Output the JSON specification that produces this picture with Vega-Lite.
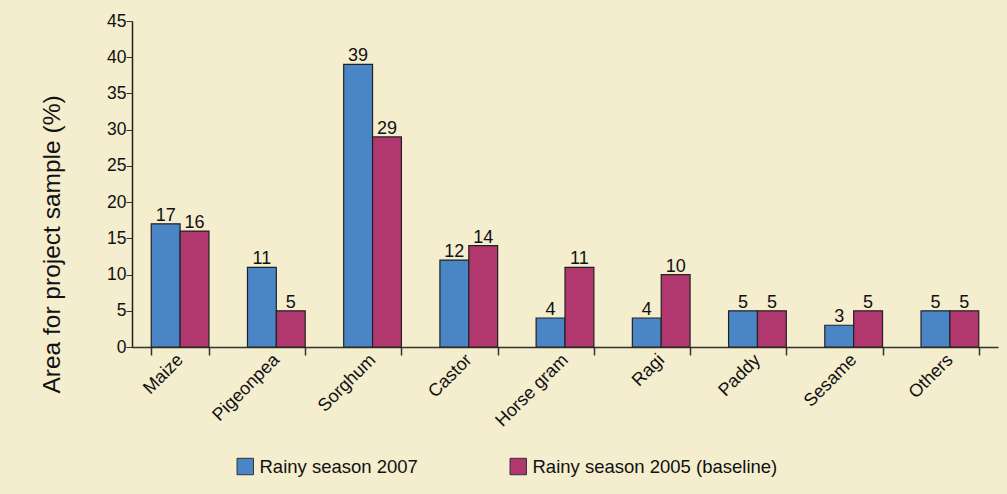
{
  "$schema": "https://vega.github.io/schema/vega-lite/v6.json",
  "width": 866,
  "height": 326,
  "autosize": {"type": "none"},
  "padding": {"left": 132, "top": 21, "right": 9, "bottom": 147},
  "background": "#F4EDCE",
  "config": {
    "font": "Liberation Sans",
    "view": {"stroke": null},
    "axis": {"labelFont": "Liberation Sans", "titleFont": "Liberation Sans", "labelColor": "#111", "titleColor": "#111", "domainColor": "#333", "tickColor": "#333"},
    "legend": {"labelFont": "Liberation Sans"}
  },
  "data": {
    "values": [
      {"crop": "Maize", "season": "Rainy season 2007", "value": 17},
      {"crop": "Maize", "season": "Rainy season 2005 (baseline)", "value": 16},
      {"crop": "Pigeonpea", "season": "Rainy season 2007", "value": 11},
      {"crop": "Pigeonpea", "season": "Rainy season 2005 (baseline)", "value": 5},
      {"crop": "Sorghum", "season": "Rainy season 2007", "value": 39},
      {"crop": "Sorghum", "season": "Rainy season 2005 (baseline)", "value": 29},
      {"crop": "Castor", "season": "Rainy season 2007", "value": 12},
      {"crop": "Castor", "season": "Rainy season 2005 (baseline)", "value": 14},
      {"crop": "Horse gram", "season": "Rainy season 2007", "value": 4},
      {"crop": "Horse gram", "season": "Rainy season 2005 (baseline)", "value": 11},
      {"crop": "Ragi", "season": "Rainy season 2007", "value": 4},
      {"crop": "Ragi", "season": "Rainy season 2005 (baseline)", "value": 10},
      {"crop": "Paddy", "season": "Rainy season 2007", "value": 5},
      {"crop": "Paddy", "season": "Rainy season 2005 (baseline)", "value": 5},
      {"crop": "Sesame", "season": "Rainy season 2007", "value": 3},
      {"crop": "Sesame", "season": "Rainy season 2005 (baseline)", "value": 5},
      {"crop": "Others", "season": "Rainy season 2007", "value": 5},
      {"crop": "Others", "season": "Rainy season 2005 (baseline)", "value": 5}
    ]
  },
  "encoding": {
    "x": {
      "field": "crop", "type": "nominal", "sort": null,
      "scale": {"paddingInner": 0.4, "paddingOuter": 0.2},
      "axis": {"title": null, "labelAngle": -45, "labelAlign": "right", "labelBaseline": "middle", "labelFontSize": 18, "labelPadding": 2, "tickBand": "extent", "tickSize": 8, "domainWidth": 1.5, "tickWidth": 1.5, "labelOverlap": false}
    },
    "xOffset": {"field": "season", "type": "nominal", "sort": ["Rainy season 2007", "Rainy season 2005 (baseline)"]},
    "y": {
      "field": "value", "type": "quantitative",
      "scale": {"domain": [0, 45]},
      "axis": {"title": "Area for project sample (%)", "titleFontSize": 24.5, "titleFontWeight": "normal", "titleX": -80, "titleY": 223, "titleAngle": -90, "titleAlign": "center", "titleBaseline": "middle", "labelFontSize": 17.5, "values": [0,5,10,15,20,25,30,35,40,45], "labelOverlap": false, "labelFlush": false, "grid": false, "tickSize": 6, "labelPadding": 0, "domainWidth": 1.5, "domainColor": "#222"}
    }
  },
  "layer": [
    {
      "mark": {"type": "bar", "stroke": "#222", "strokeWidth": 1.2},
      "encoding": {
        "color": {
          "field": "season", "type": "nominal",
          "sort": ["Rainy season 2007", "Rainy season 2005 (baseline)"],
          "scale": {"domain": ["Rainy season 2007", "Rainy season 2005 (baseline)"], "range": ["#4A86C6", "#B0386F"]},
          "legend": {"title": null, "orient": "none", "legendX": 104, "legendY": 436, "direction": "horizontal", "columns": 2, "columnPadding": 90, "symbolType": "square", "symbolSize": 270, "symbolStrokeColor": "#333", "symbolStrokeWidth": 1, "symbolOpacity": 1, "labelFontSize": 18.5, "labelLimit": 400, "labelOffset": 5, "labelColor": "#111"}
        }
      }
    },
    {
      "mark": {"type": "text", "baseline": "bottom", "dy": 1, "fontSize": 18, "color": "#111"},
      "encoding": {"text": {"field": "value", "type": "quantitative"}}
    }
  ]
}
